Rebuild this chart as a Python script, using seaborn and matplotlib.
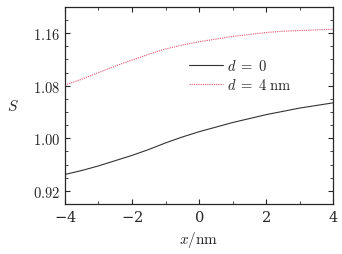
import numpy as np
import pandas as pd
import seaborn as sns
import matplotlib.pyplot as plt
from matplotlib.ticker import MultipleLocator

sns.set_style('ticks')
plt.rcParams['mathtext.fontset'] = 'cm'
plt.rcParams['font.family'] = ['DejaVu Serif']
plt.rcParams['axes.formatter.use_mathtext'] = True

# values
x_nm = [-4, -3.5, -3, -2.5, -2, -1.5, -1, -0.5, 0, 0.5, 1, 1.5, 2, 2.5, 3, 3.5, 4]
s_d0 = [0.945, 0.951, 0.958, 0.966, 0.974, 0.983, 0.993, 1.002, 1.010,
        1.017, 1.024, 1.030, 1.036, 1.041, 1.046, 1.050, 1.054]
s_d4 = [1.081, 1.090, 1.100, 1.110, 1.119, 1.128, 1.136, 1.142, 1.147,
        1.151, 1.155, 1.158, 1.161, 1.163, 1.164, 1.165, 1.166]
labels = [r'$d\;=\;0$', r'$d\;=\;4\ \mathrm{nm}$']
y_ticks = [0.92, 1.00, 1.08, 1.16]

df = pd.DataFrame({'x': x_nm * 2, 'S': s_d0 + s_d4,
                   'd': [labels[0]] * len(x_nm) + [labels[1]] * len(x_nm)})

fig = plt.figure(figsize=(3.42, 2.55), dpi=100)
ax = fig.add_axes([0.190, 0.196, 0.784, 0.773])

sns.lineplot(data=df, x='x', y='S', hue='d', style='d',
             palette=['#333333', '#e0506e'],
             dashes=[(None, None), (1, 1)], linewidth=0.8, ax=ax)

ax.set_xlim(-4, 4)
ax.set_ylim(0.90, 1.20)
ax.set_xticks([-4, -2, 0, 2, 4])
ax.set_yticks(y_ticks)
ax.set_yticklabels([f'${v:.2f}$' for v in y_ticks])
ax.xaxis.set_minor_locator(MultipleLocator(1))
ax.yaxis.set_minor_locator(MultipleLocator(0.02))
ax.tick_params(which='both', direction='in', top=True, right=True, labelsize=10.5)
ax.tick_params(which='major', length=3.5, width=0.8)
ax.tick_params(which='minor', length=2, width=0.6)
for sp in ax.spines.values():
    sp.set_linewidth(0.9)

ax.set_xlabel(r'$x/\mathrm{nm}$', fontsize=11)
ax.set_ylabel(r'$S$', fontsize=11, rotation=0, labelpad=14, va='center')

ax.legend(frameon=False, loc='center right', bbox_to_anchor=(0.895, 0.655),
          fontsize=10.5, handlelength=2.3, handletextpad=0.3, labelspacing=0.25)

fig.savefig('out.png', dpi=100)
